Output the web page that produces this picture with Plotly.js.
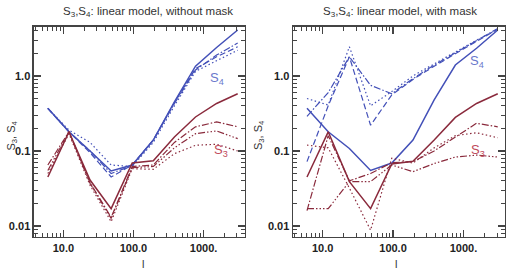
<!DOCTYPE html>
<html>
<head>
<meta charset="utf-8">
<script src="https://cdn.plot.ly/plotly-3.0.1.min.js"></script>
<style>
  html, body { margin: 0; padding: 0; background: #fff; }
  #chart { width: 507px; height: 271px; }
</style>
</head>
<body>
<div id="chart"></div>
<script>
// Multipole bins
const ells = [6, 12, 24, 48, 96, 192, 384, 768, 1536, 3072];

// Linear model, without mask
const s4NoMaskSolid   = [0.37, 0.18, 0.10, 0.054, 0.065, 0.14, 0.45, 1.35, 2.4, 4.1];
const s4NoMaskDash    = [0.37, 0.18, 0.095, 0.045, 0.065, 0.14, 0.44, 1.25, 1.8, 2.45];
const s4NoMaskDashDot = [0.37, 0.18, 0.10, 0.050, 0.064, 0.14, 0.43, 1.2, 1.9, 2.75];
const s4NoMaskDot     = [0.37, 0.19, 0.13, 0.065, 0.062, 0.13, 0.40, 1.15, 1.6, 2.2];
const s3NoMaskSolid   = [0.045, 0.18, 0.041, 0.017, 0.069, 0.074, 0.154, 0.284, 0.43, 0.58];
const s3NoMaskDashDot = [0.065, 0.18, 0.038, 0.013, 0.062, 0.065, 0.13, 0.21, 0.244, 0.21];
const s3NoMaskDash3Dot= [0.055, 0.18, 0.037, 0.0126, 0.060, 0.062, 0.11, 0.17, 0.185, 0.146];
const s3NoMaskDot     = [0.050, 0.17, 0.035, 0.0114, 0.058, 0.057, 0.092, 0.119, 0.123, 0.10];

// Linear model, with mask
const s4MaskSolid   = [0.37, 0.18, 0.108, 0.055, 0.069, 0.14, 0.48, 1.4, 2.34, 4.1];
const s4MaskDash    = [0.072, 0.40, 1.8, 0.22, 0.56, 0.90, 1.35, 2.0, 2.9, 4.2];
const s4MaskDashDot = [0.29, 0.60, 1.8, 0.75, 0.58, 0.92, 1.4, 2.05, 3.0, 4.3];
const s4MaskDot     = [0.50, 0.41, 2.45, 0.40, 0.62, 1.0, 1.45, 2.1, 3.0, 4.2];
const s3MaskSolid   = [0.045, 0.18, 0.039, 0.017, 0.067, 0.073, 0.14, 0.28, 0.43, 0.58];
const s3MaskDashDot = [0.016, 0.16, 0.040, 0.050, 0.070, 0.072, 0.10, 0.155, 0.234, 0.21];
const s3MaskDash3Dot= [0.017, 0.017, 0.039, 0.039, 0.065, 0.053, 0.068, 0.083, 0.088, 0.083];
const s3MaskDot     = [0.12, 0.11, 0.032, 0.0088, 0.080, 0.069, 0.11, 0.16, 0.175, 0.15];

// Axis ticks
const xTickVals = [10, 100, 1000];
const xTickText = ['10.0', '100.0', '1000.'];
const yTickVals = [0.01, 0.1, 1];
const yTickText = ['0.01', '0.1', '1.0'];

const panelTitles = [
  'S<sub>3</sub>,S<sub>4</sub>: linear model, without mask',
  'S<sub>3</sub>,S<sub>4</sub>: linear model, with mask'
];

const BLUE = '#4350b8';
const RED = '#8a2a3c';
const DASHES = {
  solid: 'solid',
  dash: '6px,3px',
  dashdot: '7px,2px,1.5px,2px',
  dash3dot: '7px,2px,1.5px,2px,1.5px,2px,1.5px,2px',
  dot: '1.5px,2.5px'
};

function line(y, color, dash, xa, ya) {
  return {
    x: ells, y: y, xaxis: xa, yaxis: ya, type: 'scatter', mode: 'lines',
    line: { color: color, width: dash === 'solid' ? 1.5 : 1.2, dash: DASHES[dash] },
    hoverinfo: 'skip'
  };
}

const traces = [
  line(s4NoMaskSolid, BLUE, 'solid', 'x', 'y'),
  line(s4NoMaskDash, BLUE, 'dash', 'x', 'y'),
  line(s4NoMaskDashDot, BLUE, 'dashdot', 'x', 'y'),
  line(s4NoMaskDot, BLUE, 'dot', 'x', 'y'),
  line(s3NoMaskSolid, RED, 'solid', 'x', 'y'),
  line(s3NoMaskDashDot, RED, 'dashdot', 'x', 'y'),
  line(s3NoMaskDash3Dot, RED, 'dash3dot', 'x', 'y'),
  line(s3NoMaskDot, RED, 'dot', 'x', 'y'),
  line(s4MaskSolid, BLUE, 'solid', 'x2', 'y2'),
  line(s4MaskDash, BLUE, 'dash', 'x2', 'y2'),
  line(s4MaskDashDot, BLUE, 'dashdot', 'x2', 'y2'),
  line(s4MaskDot, BLUE, 'dot', 'x2', 'y2'),
  line(s3MaskSolid, RED, 'solid', 'x2', 'y2'),
  line(s3MaskDashDot, RED, 'dashdot', 'x2', 'y2'),
  line(s3MaskDash3Dot, RED, 'dash3dot', 'x2', 'y2'),
  line(s3MaskDot, RED, 'dot', 'x2', 'y2')
];

const tickFont = { family: 'Liberation Sans, Arial, sans-serif', size: 11, color: '#222', weight: 'bold' };

function xAxis(domain, anchor) {
  return {
    type: 'log', domain: domain, anchor: anchor, range: [0.58, 3.59],
    tickmode: 'array', tickvals: xTickVals, ticktext: xTickText,
    ticks: 'inside', ticklen: 7, tickwidth: 1.2, tickcolor: '#444',
    showline: true, linecolor: '#444', linewidth: 1.5, mirror: 'allticks',
    showgrid: false, zeroline: false, tickfont: tickFont,
    minor: { ticks: 'inside', ticklen: 4, tickwidth: 1, tickcolor: '#444', dtick: 'D1', showgrid: false }
  };
}
function yAxis(anchor) {
  return {
    type: 'log', domain: [0.1255, 0.9004], anchor: anchor, range: [-2.147, 0.653],
    tickmode: 'array', tickvals: yTickVals, ticktext: yTickText,
    ticks: 'inside', ticklen: 7, tickwidth: 1.2, tickcolor: '#444',
    showline: true, linecolor: '#444', linewidth: 1.5, mirror: 'allticks',
    showgrid: false, zeroline: false, tickfont: tickFont,
    minor: { ticks: 'inside', ticklen: 4, tickwidth: 1, tickcolor: '#444', dtick: 'D1', showgrid: false }
  };
}

const textFont = { family: 'Liberation Sans, Arial, sans-serif', size: 11.5, color: '#333' };
const labelFont = { family: 'Liberation Sans, Arial, sans-serif', size: 11, color: '#333' };

const annotations = [
  { text: panelTitles[0], xref: 'paper', yref: 'paper', x: 0.292, y: 0.99, xanchor: 'center', yanchor: 'top', showarrow: false, font: textFont },
  { text: panelTitles[1], xref: 'paper', yref: 'paper', x: 0.789, y: 0.99, xanchor: 'center', yanchor: 'top', showarrow: false, font: textFont },
  { text: 'S<sub>3</sub>, S<sub>4</sub>', xref: 'paper', yref: 'paper', x: 0.004, y: 0.5, textangle: -90, showarrow: false, font: labelFont },
  { text: 'S<sub>3</sub>, S<sub>4</sub>', xref: 'paper', yref: 'paper', x: 0.51, y: 0.5, textangle: -90, showarrow: false, font: labelFont },
  { text: 'l', xref: 'paper', yref: 'paper', x: 0.276, y: -0.005, yanchor: 'bottom', showarrow: false, font: labelFont },
  { text: 'l', xref: 'paper', yref: 'paper', x: 0.787, y: -0.005, yanchor: 'bottom', showarrow: false, font: labelFont },
  { text: 'S<sub>4</sub>', xref: 'x', yref: 'y', x: Math.log10(1580), y: Math.log10(0.92), showarrow: false, font: { family: 'Liberation Sans, Arial, sans-serif', size: 13, color: '#6a78cc' } },
  { text: 'S<sub>3</sub>', xref: 'x', yref: 'y', x: Math.log10(1800), y: Math.log10(0.103), showarrow: false, font: { family: 'Liberation Sans, Arial, sans-serif', size: 13, color: '#c04a5a' } },
  { text: 'S<sub>4</sub>', xref: 'x2', yref: 'y2', x: Math.log10(1550), y: Math.log10(1.54), showarrow: false, font: { family: 'Liberation Sans, Arial, sans-serif', size: 13, color: '#6a78cc' } },
  { text: 'S<sub>3</sub>', xref: 'x2', yref: 'y2', x: Math.log10(1600), y: Math.log10(0.103), showarrow: false, font: { family: 'Liberation Sans, Arial, sans-serif', size: 13, color: '#c04a5a' } }
];

const layout = {
  width: 507, height: 271,
  margin: { l: 0, r: 0, t: 0, b: 0 },
  paper_bgcolor: '#fff', plot_bgcolor: '#fff',
  showlegend: false,
  xaxis: xAxis([0.067, 0.483], 'y'),
  yaxis: yAxis('x'),
  xaxis2: xAxis([0.578, 0.996], 'y2'),
  yaxis2: yAxis('x2'),
  annotations: annotations
};

Plotly.newPlot('chart', traces, layout, { displayModeBar: false, staticPlot: true });
</script>
</body>
</html>
